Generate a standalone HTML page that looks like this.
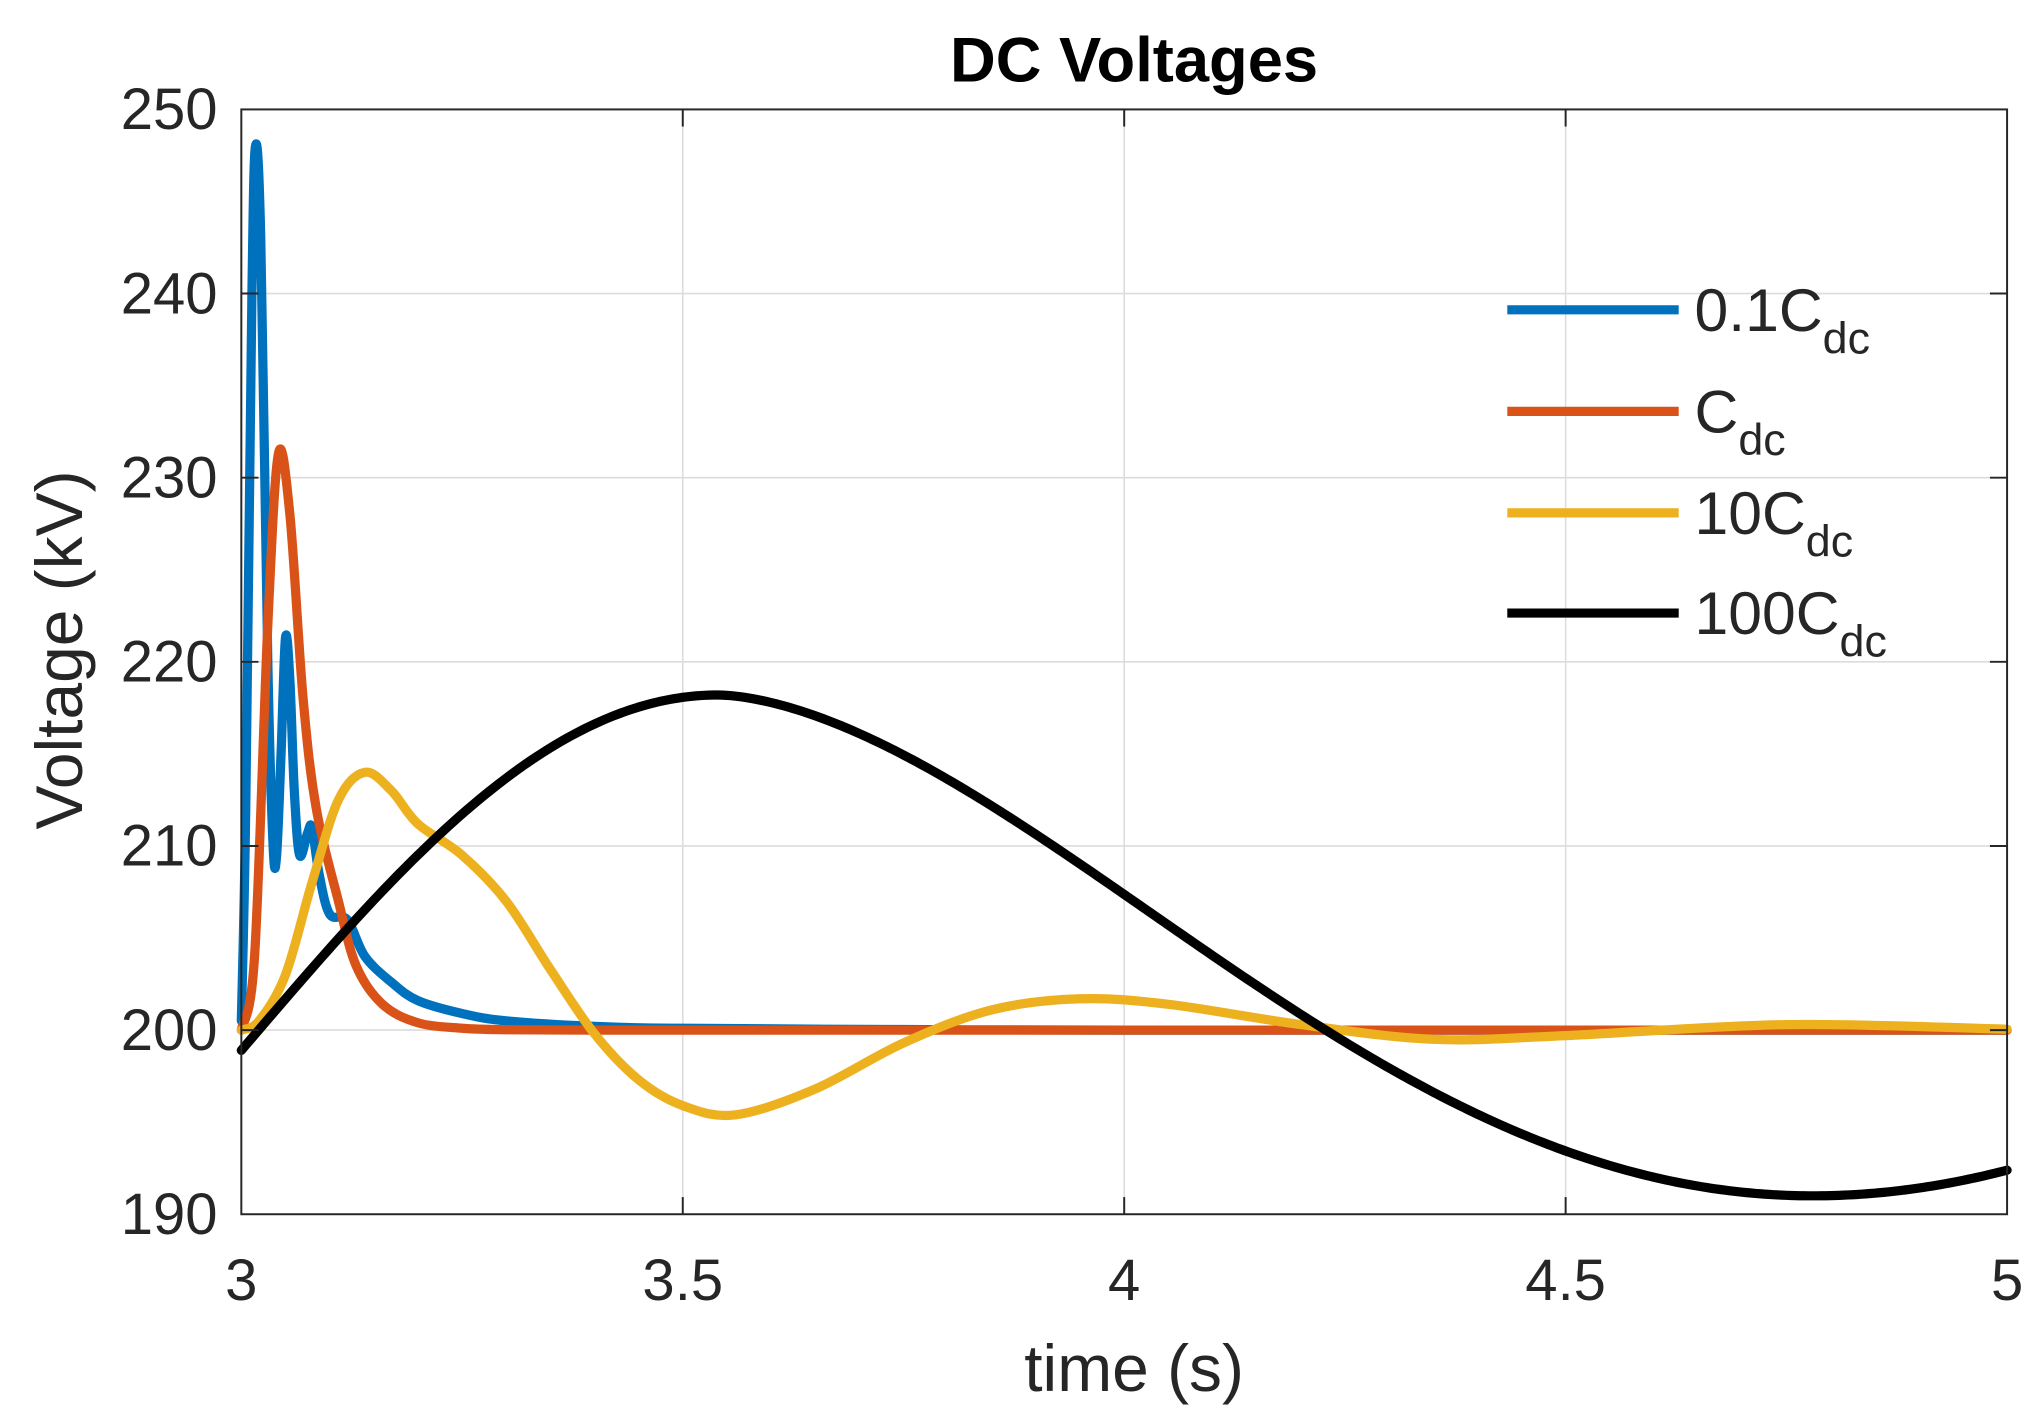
<!DOCTYPE html>
<html><head><meta charset="utf-8"><style>html,body{margin:0;padding:0;background:#fff}svg{display:block}</style></head>
<body>
<svg id="s" width="2044" height="1412" viewBox="0 0 1550 1071" preserveAspectRatio="none" xmlns="http://www.w3.org/2000/svg" font-family="Liberation Sans, Arial, sans-serif">
<rect width="1550" height="1071" fill="#fff"/>
<g id="grid" stroke="#dcdcdc" stroke-width="1.2"></g>
<g id="curves" fill="none" stroke-linejoin="round" stroke-linecap="round"></g>
<rect x="183" y="83" width="1339" height="838" fill="none" stroke="#262626" stroke-width="1.5"/>
<g id="ticks" stroke="#262626" stroke-width="1.5"></g>
<g id="labels" fill="#262626" font-size="44"></g>
<text x="860" y="62" text-anchor="middle" font-weight="bold" font-size="48" fill="#000">DC Voltages</text>
<text x="860" y="1055" text-anchor="middle" font-size="50" fill="#262626">time (s)</text>
<text transform="translate(62,493) rotate(-90)" text-anchor="middle" font-size="50" fill="#262626">Voltage (kV)</text>
<g font-size="46" fill="#262626">
<line x1="1143" y1="235" x2="1273" y2="235" stroke="#0072BD" stroke-width="7"/>
<text x="1285" y="251">0.1C<tspan font-size="34" dy="17">dc</tspan></text>
<line x1="1143" y1="312" x2="1273" y2="312" stroke="#D95319" stroke-width="7"/>
<text x="1285" y="328">C<tspan font-size="34" dy="17">dc</tspan></text>
<line x1="1143" y1="389" x2="1273" y2="389" stroke="#EDB120" stroke-width="7"/>
<text x="1285" y="405">10C<tspan font-size="34" dy="17">dc</tspan></text>
<line x1="1143" y1="465" x2="1273" y2="465" stroke="#000" stroke-width="7"/>
<text x="1285" y="481">100C<tspan font-size="34" dy="17">dc</tspan></text>
</g>
</svg>
<script>
var NS="http://www.w3.org/2000/svg";
function X(t){return 183+(t-3)*669.5;}
function Y(v){return 921-(v-190)*13.967;}
function el(p,n,a,txt){var e=document.createElementNS(NS,n);for(var k in a)e.setAttribute(k,a[k]);if(txt!==undefined)e.textContent=txt;document.getElementById(p).appendChild(e);}
for(var i=1;i<4;i++){var x=X(3+i*0.5);el('grid','line',{x1:x,y1:83,x2:x,y2:921});el('ticks','line',{x1:x,y1:921,x2:x,y2:908});el('ticks','line',{x1:x,y1:83,x2:x,y2:96});}
for(var v=200;v<250;v+=10){var y=Y(v);el('grid','line',{x1:183,y1:y,x2:1522,y2:y});el('ticks','line',{x1:183,y1:y,x2:196,y2:y});el('ticks','line',{x1:1522,y1:y,x2:1509,y2:y});}
for(var i=0;i<5;i++){var t=3+i*0.5;el('labels','text',{x:X(t),y:986,'text-anchor':'middle'},String(t));}
for(var v=190;v<=250;v+=10){el('labels','text',{x:165,y:Y(v)+15,'text-anchor':'end'},String(v));}
function path(pts,col){var P=pts.map(function(p){return [X(p[0]),Y(p[1])];});var d="M"+P[0][0]+","+P[0][1];
for(var i=0;i<P.length-1;i++){var p0=P[Math.max(0,i-1)],p1=P[i],p2=P[i+1],p3=P[Math.min(P.length-1,i+2)];
var c1=[p1[0]+(p2[0]-p0[0])/6,p1[1]+(p2[1]-p0[1])/6],c2=[p2[0]-(p3[0]-p1[0])/6,p2[1]-(p3[1]-p1[1])/6];
d+=" C"+c1+" "+c2+" "+p2;}
el('curves','path',{d:d,stroke:col,'stroke-width':7});}
path([[3.0,200.5],[3.005,212],[3.012,240],[3.016,248],[3.022,243],[3.03,220],[3.036,210],[3.04,209.5],[3.045,215],[3.05,221.3],[3.055,219],[3.06,213],[3.066,209.5],[3.075,210.7],[3.08,211],[3.088,208.5],[3.1,206.3],[3.12,206],[3.14,204],[3.17,202.6],[3.2,201.6],[3.25,200.9],[3.3,200.5],[3.4,200.2],[3.5,200.1],[3.75,200.03],[4,200],[4.5,200],[5,200]],"#0072BD");
path([[3.0,200],[3.015,204],[3.03,222],[3.042,231.3],[3.055,228],[3.07,218],[3.085,212],[3.11,207],[3.13,203.5],[3.16,201.4],[3.2,200.4],[3.25,200.1],[3.3,200.02],[3.4,200],[3.6,200],[4,200],[4.5,200],[5,200]],"#D95319");
path([[3.0,200],[3.02,200.5],[3.05,203],[3.08,208],[3.11,212.5],[3.14,214],[3.17,213],[3.2,211.2],[3.25,209.5],[3.3,207],[3.35,203.3],[3.4,199.8],[3.45,197.3],[3.5,195.9],[3.56,195.4],[3.65,196.8],[3.75,199.3],[3.85,201.1],[3.95,201.7],[4.05,201.4],[4.2,200.3],[4.35,199.5],[4.5,199.7],[4.75,200.3],[5,200.05]],"#EDB120");
(function(){var d="";for(var i=0;i<=400;i++){var tau=i*2/400,V;
if(tau<=0.54){V=198.9+19.3*Math.sin(Math.PI/2*tau/0.54);}
else if(tau<=1.78){var s=Math.pow((tau-0.54)/1.24,0.84);V=218.2-27.2*(1-Math.cos(Math.PI*s))/2;}
else{var s=(tau-1.78)/1.24;V=191+18.4*(1-Math.cos(Math.PI*s))/2;}
d+=(i?"L":"M")+X(3+tau).toFixed(2)+","+Y(V).toFixed(2);}
el('curves','path',{d:d,stroke:"#000",'stroke-width':7});})();
</script>
</body></html>
